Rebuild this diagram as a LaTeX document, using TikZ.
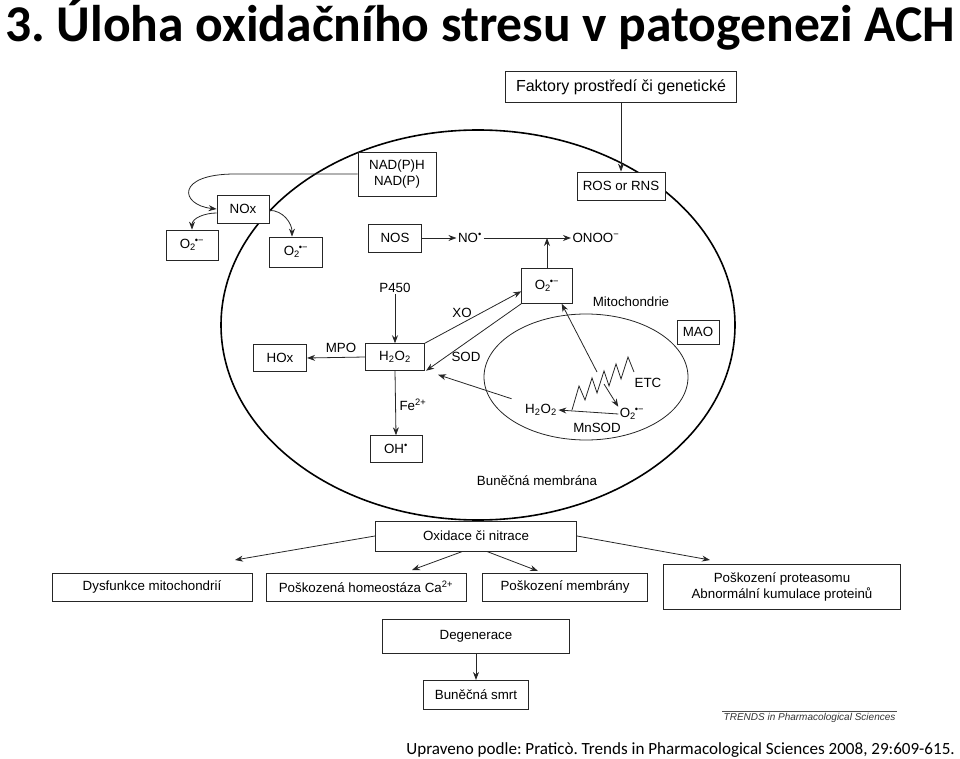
\documentclass[tikz,border=0pt]{standalone}
\usepackage{fontspec}
\setmainfont{Liberation Sans}
\newfontfamily\calibri{Carlito}
\usetikzlibrary{arrows.meta}
\frenchspacing
\newcommand{\superox}{O\textsubscript{2}\textsuperscript{\kern-1pt•−}}
\newcommand{\peroxide}{H\textsubscript{2}O\textsubscript{2}}

\begin{document}
\begin{tikzpicture}[x=0.75pt, y=-0.75pt,
  box/.style={draw=black!85, fill=white, line width=0.6pt, align=center, inner sep=1pt, font=\fontsize{10}{12}\selectfont},
  lbl/.style={inner sep=1pt, font=\fontsize{10}{12}\selectfont},
  arr/.style={-{Stealth[length=6pt,width=4.5pt]}, line width=0.6pt, black!85}]
  \useasboundingbox (0,0) rectangle (960,759);

  % Title
  \node[inner sep=0, font=\calibri\bfseries\fontsize{38.7}{44}\selectfont] (title) at (480,24) {3. Úloha oxidačního stresu v patogenezi ACH};

  % Cell and mitochondrion
  \draw[line width=1.2pt] (478,325) ellipse [x radius=257, y radius=195];
  \draw[line width=0.6pt, black!85] (586,377) ellipse [x radius=102, y radius=63];
  \node[lbl] (membrana) at (537,481) {Buněčná membrána};
  \node[lbl] (mitolbl) at (631,302) {Mitochondrie};

  % Upper boxes
  \node[box, line width=1.2pt, minimum width=173pt, minimum height=23pt, font=\fontsize{12}{14}\selectfont] (faktory) at (621,87) {Faktory prostředí či genetické};
  \node[box, minimum width=66pt, minimum height=21pt] (ros) at (621,186) {ROS or RNS};
  \node[box, minimum width=58.5pt, minimum height=33pt] (nadph) at (397,174) {NAD(P)H\\NAD(P)};
  \node[box, minimum width=39pt, minimum height=21pt] (nox) at (243,209) {NOx};
  \node[box, minimum width=39pt, minimum height=22.5pt] (o2a) at (192,245) {\superox};
  \node[box, minimum width=40pt, minimum height=22.5pt] (o2b) at (296,252) {\superox};
  \node[box, minimum width=40pt, minimum height=21pt] (nos) at (395,238) {NOS};
  \node[lbl] (no) at (470,238) {NO\textsuperscript{•}};
  \node[lbl] (onoo) at (596,238) {ONOO\textsuperscript{−}};
  \node[box, minimum width=38pt, minimum height=26pt] (o2c) at (547,286) {\superox};
  \node[lbl] (p450) at (395,288) {P450};
  \node[box, minimum width=44pt, minimum height=20pt] (hto) at (395,357) {\peroxide};
  \node[box, minimum width=40pt, minimum height=20pt] (hox) at (280,358) {HOx};
  \node[box, minimum width=39pt, minimum height=20pt] (oh) at (396,449) {OH\textsuperscript{•}};
  \node[box, minimum width=31.5pt, minimum height=18pt] (mao) at (698,332) {MAO};

  % Labels on arrows
  \node[lbl] (xo) at (462,313) {XO};
  \node[lbl] (sod) at (466,357) {SOD};
  \node[lbl] (mpo) at (341,348) {MPO};
  \node[lbl] (fe) at (413,405) {Fe\textsuperscript{2+}};

  % Inside mitochondrion
  \node[lbl] (etc) at (648,383) {ETC};
  \node[lbl] (o2m) at (632,414) {\superox};
  \node[lbl] (htom) at (541,410) {\peroxide};
  \node[lbl] (mnsod) at (597,428) {MnSOD};
  \draw[line width=0.6pt, black!85] (572,410) -- (579,386) -- (585,400) -- (592,378) -- (597,393) -- (604,371)
    -- (609,386) -- (616,364) -- (621,379) -- (628,357) -- (634,372);
  \coordinate (etcup) at (597,372);
  \coordinate (etcdn) at (604,384);

  % Connectors, upper part
  \draw[arr] (faktory.south) -- (ros.north);
  \draw[arr] (nadph.west) -- (235,174) .. controls (175,174) and (180,205) .. (nox.west);
  \draw[arr] ([yshift=-3pt]nox.west) to[out=180, in=90] (o2a.north);
  \draw[arr] ([yshift=-1pt]nox.east) to[out=0, in=90] ([xshift=-3pt]o2b.north);
  \draw[arr] (nos.east) -- (no.west);
  \draw[arr] (no.east) -- (onoo.west);
  \draw[arr] (o2c.north) -- (o2c.north |- onoo.west);
  \draw[arr] (p450.south) -- (hto.north);
  \draw[arr] (hto.west) -- (hox.east);
  \draw[arr] (hto.south) -- (oh.north);
  \draw[arr] (hto.north east) -- ([yshift=-4pt]o2c.west);
  \draw[arr] (o2c.south west) -- ([xshift=1pt]hto.south east);
  \draw[arr] ([xshift=-9pt,yshift=3pt]htom.north west) -- ([xshift=10pt,yshift=-3pt]hto.south east);
  \draw[arr] (etcup) -- ([xshift=11pt]o2c.south);
  \draw[arr] (etcdn) -- (o2m.north west);
  \draw[arr] (o2m.west) -- (htom.east);

  % Lower boxes
  \node[box, minimum width=151pt, minimum height=22.5pt] (oxid) at (476,536) {Oxidace či nitrace};
  \node[box, minimum width=150pt, minimum height=21pt] (dysf) at (152,587) {Dysfunkce mitochondrií};
  \node[box, minimum width=150pt, minimum height=21pt] (homeo) at (366,587) {Poškozená homeostáza Ca\textsuperscript{2+}};
  \node[box, minimum width=124pt, minimum height=21pt] (membr) at (565,587) {Poškození membrány};
  \node[box, minimum width=178pt, minimum height=34pt] (prot) at (782,587) {Poškození proteasomu\\Abnormální kumulace proteinů};
  \node[box, minimum width=140pt, minimum height=25.5pt] (degen) at (476,636) {Degenerace};
  \node[box, minimum width=79pt, minimum height=22pt] (smrt) at (476,695) {Buněčná smrt};

  % Connectors, lower part
  \coordinate (tipdysf) at (235,560);
  \coordinate (tiphomeo) at (412,570);
  \coordinate (tipmembr) at (538,571);
  \coordinate (tipprot) at (710,560);
  \draw[arr] (oxid.west) -- (tipdysf);
  \draw[arr] ([xshift=-10pt]oxid.south) -- (tiphomeo);
  \draw[arr] ([xshift=8pt]oxid.south) -- (tipmembr);
  \draw[arr] (oxid.east) -- (tipprot);
  \draw[arr] (degen.south) -- (smrt.north);

  % Source
  \draw[line width=0.4pt, black!70] (722,711) -- (897,711);
  \node[anchor=north east, inner sep=1pt, black!80, font=\itshape\fontsize{7.5}{9}\selectfont] (trends) at (897,712) {TRENDS in Pharmacological Sciences};
  \node[anchor=base east, inner sep=0, font=\calibri\fontsize{12.8}{15}\selectfont] (zdroj) at (955,754) {Upraveno podle: Praticò. Trends in Pharmacological Sciences 2008, 29:609-615.};
\end{tikzpicture}
\end{document}
